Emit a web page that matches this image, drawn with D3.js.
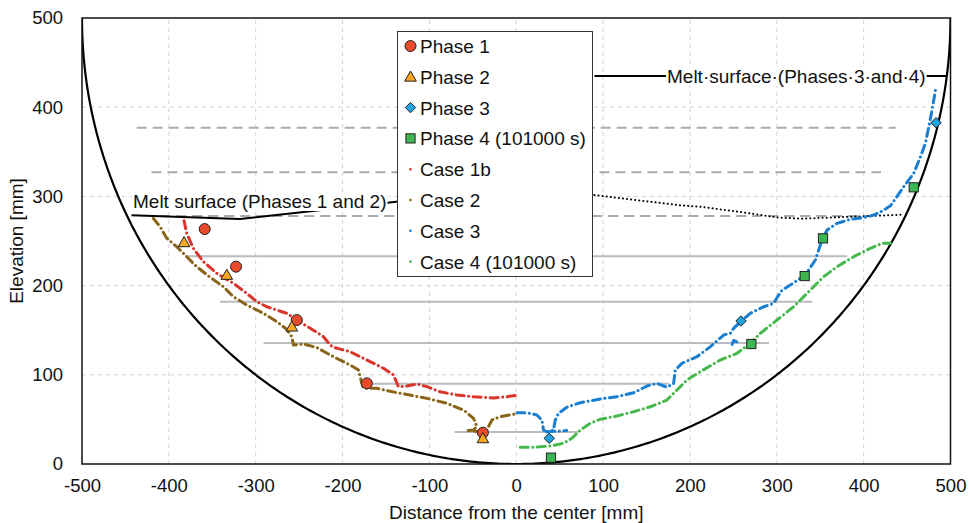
<!DOCTYPE html>
<html>
<head>
<meta charset="utf-8">
<script src="https://cdn.jsdelivr.net/npm/d3@7"></script>
<style>
  html, body { margin: 0; padding: 0; background: #fff; }
  svg { display: block; font-family: "Liberation Sans", Arial, sans-serif; }
</style>
</head>
<body>
<svg id="chart" width="971" height="523"></svg>
<script>
// ---- Data (distance from centre [mm], elevation [mm]) ----
const xTicks = [-500, -400, -300, -200, -100, 0, 100, 200, 300, 400, 500];
const yTicks = [0, 100, 200, 300, 400, 500];

const phase1 = [[-358.7, 263.4], [-322.6, 221.2], [-252.7, 161.4], [-172, 90.4], [-38.4, 35.1]];
const phase2 = [[-382.5, 248.5], [-333.3, 211.9], [-258.4, 153.9], [-38.4, 28.7]];
const phase3 = [[38, 28.8], [258.8, 160.3], [483.4, 382.6]];
const phase4 = [[40, 7.1], [270.7, 134.5], [332.1, 210.7], [353.2, 253], [457.7, 310.2]];

const case1b = [[-382.5, 272.7], [-379.4, 258.6], [-371.8, 241.8], [-360.3, 226.8], [-344.8, 213.8],
  [-325.7, 202.6], [-310.3, 191.3], [-298.7, 182], [-287.2, 176.3], [-264.2, 168.9], [-248.9, 159],
  [-233.5, 150], [-222, 142.7], [-214.3, 133.4], [-210.5, 130.8], [-191.3, 125.9], [-172, 116.6],
  [-152.9, 107.3], [-141.4, 99.8], [-135.6, 86.7], [-126, 87.4], [-114.4, 89.7], [-102.9, 86.7],
  [-87.6, 81], [-68.3, 77.3], [-49.2, 75.4], [-26.2, 74], [-10.8, 75.4], [0, 77]];

const case2 = [[-417.9, 275.4], [-410.1, 266], [-402.4, 253], [-390.9, 243.6], [-379.4, 232.4],
  [-367.9, 221.2], [-352.5, 209.3], [-337.2, 198.8], [-325.7, 187.5], [-310.3, 178.2], [-291.1, 168.9],
  [-275.7, 159.5], [-264.2, 151], [-258.4, 142.7], [-256.6, 133.4], [-245, 134.5], [-229.6, 130.5],
  [-210.5, 120.3], [-191.3, 111], [-181.7, 105.4], [-177.8, 90.4], [-175.9, 84.9], [-160.5, 84.9],
  [-149, 82.2], [-133.7, 79.3], [-102.9, 73.6], [-79.9, 68], [-60.7, 60.5], [-49.2, 51.2],
  [-45.3, 41.8], [-49.2, 38.1], [-57, 37.5], [-44, 36.5], [-34, 37.5], [-32, 41.8], [-28, 49.3],
  [-18.5, 53], [-3.2, 55.7], [0.6, 56]];

const case3 = [[0.7, 57.5], [12.2, 57.5], [23.7, 54.9], [29.5, 49.3], [31.4, 38.1], [35.2, 36.2],
  [42.9, 38.1], [44.9, 49.3], [48.7, 56.8], [58.3, 63.6], [73.7, 68.7], [96.7, 72.9], [115.9, 75.4],
  [135.1, 79.9], [150.5, 87.4], [162, 90.4], [173.5, 86], [181.2, 90.4], [183.1, 105.4], [190.8, 112.9],
  [208.1, 120.3], [223.5, 131.5], [238.8, 144.6], [246.5, 146.5], [250.3, 152.1], [258, 159.5],
  [269.5, 168.9], [284.8, 176.3], [296.3, 180.1], [300.9, 187.5], [306, 195], [315.6, 200.6],
  [327.1, 208.1], [336.7, 217.5], [344.4, 228.7], [348.2, 239.9], [352.1, 251.1], [357.9, 262.3],
  [369.4, 269.8], [384.7, 274.3], [400, 276.1], [411.6, 279.1], [421.2, 283.5], [430.8, 289.5],
  [438.5, 300], [446.1, 310.9], [457.7, 325.9], [465.4, 344.5], [471.1, 359.5], [475, 378.1],
  [478.8, 396.8], [482.7, 419.3]];
const case3Tails = [
  [[35.2, 36.2], [47, 37], [58, 37.5]],
  [[248.5, 134], [250.3, 138.5], [254, 137]]
];

const case4 = [[4.6, 18.7], [19.9, 18.7], [39.1, 20.2], [54.5, 23.2], [64.1, 28.8], [73.7, 38.1],
  [85.2, 45.6], [96.7, 50.1], [115.9, 53.8], [135.1, 58.6], [154.3, 64.2], [173.5, 71.7], [181.2, 79.3],
  [196.6, 94.2], [211.9, 103.5], [235, 116.6], [254.2, 124.1], [269.5, 135.3], [281, 146.5],
  [300.2, 161.4], [319.4, 176.3], [338.6, 195], [353.9, 210], [369.4, 221.2], [388.5, 232.4],
  [407.7, 241.8], [421.2, 247.4], [430.8, 247.4]];

// Melt surfaces and layer levels
const meltSurface12 = [[-443, 279], [-318, 274.7], [-120, 296]];
const meltSurface34Level = 435;
const meltDotted = [[90, 301.5], [189, 290], [212, 288.4], [262, 282], [300, 276.5], [327, 275], [385, 277.2], [446, 279.5]];
const dashedLevels = [[377, 437], [327, 420], [278, 410]];          // [elevation, half width]
const solidLevels = [[233, 381], [182, 341], [135.6, 291], [90, 176], [36, 71]];
const vesselRadius = 500;

const legendItems = [
  { label: "Phase 1", kind: "circle", color: "#ea4a2c" },
  { label: "Phase 2", kind: "triangle", color: "#f6a823" },
  { label: "Phase 3", kind: "diamond", color: "#1ea3e3" },
  { label: "Phase 4 (101000 s)", kind: "square", color: "#3db550" },
  { label: "Case 1b", kind: "dot", color: "#d9352b" },
  { label: "Case 2", kind: "dot", color: "#8a6418" },
  { label: "Case 3", kind: "dot", color: "#1a7fd0" },
  { label: "Case 4 (101000 s)", kind: "dot", color: "#46b84e" }
];

// ---- Layout ----
const svg = d3.select("#chart");
const x = d3.scaleLinear().domain([-500, 500]).range([82, 950.5]);
const y = d3.scaleLinear().domain([0, 500]).range([464, 18]);
const line = d3.line().x(d => x(d[0])).y(d => y(d[1]));
const FONT = 19;
const TICK_FONT = 18.5;

svg.append("defs").append("clipPath").attr("id", "plotClip")
  .append("rect").attr("x", x(-500)).attr("y", y(500)).attr("width", x(500) - x(-500)).attr("height", y(0) - y(500));

// Grid
const grid = svg.append("g");
grid.selectAll(".vg").data(xTicks.slice(1, -1)).join("line")
  .attr("x1", d => x(d)).attr("x2", d => x(d)).attr("y1", y(0)).attr("y2", y(500))
  .attr("stroke", "#d4d4d4").attr("stroke-width", 1).attr("stroke-dasharray", "4,4");
grid.selectAll(".hg").data(yTicks.slice(1, -1)).join("line")
  .attr("y1", d => y(d)).attr("y2", d => y(d)).attr("x1", x(-500)).attr("x2", x(500))
  .attr("stroke", "#d4d4d4").attr("stroke-width", 1).attr("stroke-dasharray", "4,4");

// Layer levels
const levels = svg.append("g");
levels.selectAll(".dl").data(dashedLevels).join("line")
  .attr("x1", d => x(-d[1])).attr("x2", d => x(d[1])).attr("y1", d => y(d[0])).attr("y2", d => y(d[0]))
  .attr("stroke", "#a9abae").attr("stroke-width", 2).attr("stroke-dasharray", "10,6");
levels.selectAll(".sl").data(solidLevels).join("line")
  .attr("x1", d => x(-d[1])).attr("x2", d => x(d[1])).attr("y1", d => y(d[0])).attr("y2", d => y(d[0]))
  .attr("stroke", "#b9bdc1").attr("stroke-width", 2);

// Vessel wall
const vessel = d3.range(-90, 90.01, 0.5).map(a => {
  const t = a * Math.PI / 180;
  return [vesselRadius * Math.sin(t), vesselRadius - vesselRadius * Math.cos(t)];
});
svg.append("path").attr("d", line(vessel)).attr("fill", "none")
  .attr("stroke", "#000").attr("stroke-width", 2.2).attr("clip-path", "url(#plotClip)");

// Melt surfaces
svg.append("path").attr("d", line(meltSurface12)).attr("fill", "none").attr("stroke", "#000").attr("stroke-width", 2);
svg.append("path").attr("d", line(meltDotted)).attr("fill", "none").attr("stroke", "#000")
  .attr("stroke-width", 2).attr("stroke-dasharray", "0.1,4").attr("stroke-linecap", "round");
const x34End = Math.sqrt(2 * vesselRadius * meltSurface34Level - meltSurface34Level * meltSurface34Level);
svg.append("line").attr("x1", x(90)).attr("x2", x(x34End))
  .attr("y1", y(meltSurface34Level)).attr("y2", y(meltSurface34Level))
  .attr("stroke", "#000").attr("stroke-width", 2);

// Case series
const cases = [
  { data: [case1b], color: "#d9352b" },
  { data: [case2], color: "#8a6418" },
  { data: [case3].concat(case3Tails), color: "#1a7fd0" },
  { data: [case4], color: "#46b84e" }
];
cases.forEach(c => {
  svg.append("g").selectAll("path").data(c.data).join("path")
    .attr("d", line).attr("fill", "none").attr("stroke", c.color)
    .attr("stroke-width", 3).attr("stroke-linecap", "round").attr("stroke-linejoin", "round")
    .attr("stroke-dasharray", "8,4.5,0.1,4.5");
});

// Marker shapes
function drawMarker(g, kind, cx, cy, color) {
  if (kind === "circle") {
    g.append("circle").attr("cx", cx).attr("cy", cy).attr("r", 5.5)
      .attr("fill", color).attr("stroke", "#222").attr("stroke-width", 1);
  } else if (kind === "triangle") {
    const s = 5.8;
    g.append("path").attr("d", `M${cx},${cy - s}L${cx + s},${cy + s * 0.75}L${cx - s},${cy + s * 0.75}Z`)
      .attr("fill", color).attr("stroke", "#222").attr("stroke-width", 1);
  } else if (kind === "diamond") {
    const s = 5.2;
    g.append("path").attr("d", `M${cx},${cy - s}L${cx + s},${cy}L${cx},${cy + s}L${cx - s},${cy}Z`)
      .attr("fill", color).attr("stroke", "#222").attr("stroke-width", 1);
  } else if (kind === "square") {
    const s = 4.6;
    g.append("rect").attr("x", cx - s).attr("y", cy - s).attr("width", 2 * s).attr("height", 2 * s)
      .attr("fill", color).attr("stroke", "#222").attr("stroke-width", 1);
  } else {
    g.append("circle").attr("cx", cx).attr("cy", cy).attr("r", 1.3).attr("fill", color);
  }
}
const markerSets = [[phase1, 0], [phase2, 1], [phase3, 2], [phase4, 3]];
const markers = svg.append("g");
markerSets.forEach(([pts, i]) => {
  pts.forEach(p => drawMarker(markers, legendItems[i].kind, x(p[0]), y(p[1]), legendItems[i].color));
});

// Frame
svg.append("rect").attr("x", x(-500)).attr("y", y(500)).attr("width", x(500) - x(-500)).attr("height", y(0) - y(500))
  .attr("fill", "none").attr("stroke", "#111").attr("stroke-width", 1.5);

// Axes
const xAxis = svg.append("g").attr("transform", `translate(0,${y(0)})`)
  .call(d3.axisBottom(x).tickValues(xTicks).tickSize(0).tickPadding(15).tickFormat(d => String(d)));
const yAxis = svg.append("g").attr("transform", `translate(${x(-500)},0)`)
  .call(d3.axisLeft(y).tickValues(yTicks).tickSize(0).tickPadding(19).tickFormat(d => String(d)));
[xAxis, yAxis].forEach(a => {
  a.select(".domain").remove();
  a.selectAll("text").attr("font-size", TICK_FONT).attr("fill", "#111")
    .attr("font-family", '"Liberation Sans", Arial, sans-serif');
});

svg.append("text").attr("x", (x(-500) + x(500)) / 2).attr("y", 519)
  .attr("text-anchor", "middle").attr("font-size", FONT).attr("fill", "#111")
  .text("Distance from the center [mm]");
svg.append("text").attr("transform", `translate(23,${(y(0) + y(500)) / 2}) rotate(-90)`)
  .attr("text-anchor", "middle").attr("font-size", FONT).attr("fill", "#111")
  .text("Elevation [mm]");

// Melt surface labels on white boxes
function boxedLabel(text, px, py) {
  const g = svg.append("g");
  const bg = g.append("rect").attr("fill", "#fff");
  const t = g.append("text").attr("x", px).attr("y", py).attr("font-size", FONT).attr("fill", "#111").text(text);
  const b = t.node().getBBox();
  bg.attr("x", b.x - 1).attr("y", b.y + 1).attr("width", b.width + 2).attr("height", b.height - 2);
}
boxedLabel("Melt surface (Phases 1 and 2)", 133, 208);
boxedLabel("Melt·surface·(Phases·3·and·4)", 667, 83);

// Legend
const lg = svg.append("g");
lg.append("rect").attr("x", 397.5).attr("y", 31.5).attr("width", 195).attr("height", 245)
  .attr("fill", "#fff").attr("stroke", "#333").attr("stroke-width", 1);
legendItems.forEach((it, i) => {
  const cy = 46 + i * 30.8;
  drawMarker(lg, it.kind, 410.5, cy, it.color);
  lg.append("text").attr("x", 420).attr("y", cy + 7).attr("font-size", FONT).attr("fill", "#111").text(it.label);
});
</script>
</body>
</html>
